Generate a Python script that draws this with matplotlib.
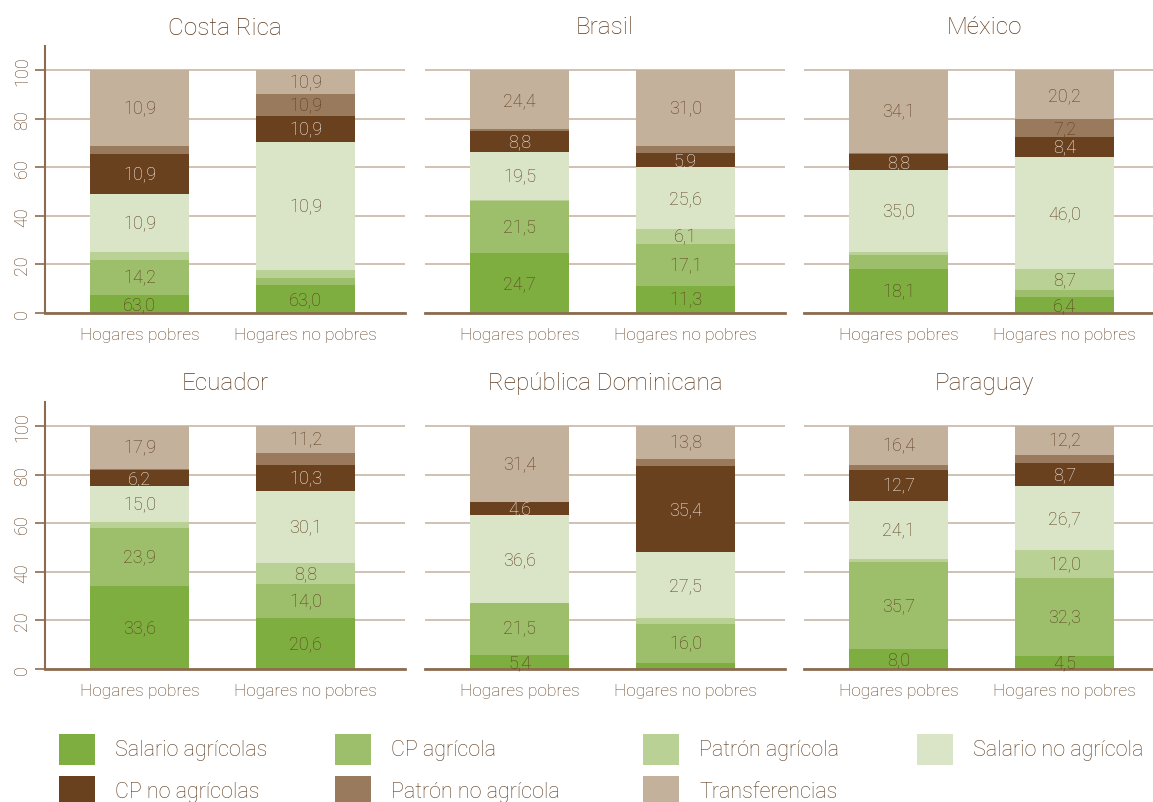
import matplotlib.pyplot as plt
from matplotlib.patches import Rectangle

# light sans, close to the original's typeface
plt.rcParams["font.family"] = ["Roboto", "DejaVu Sans"]
WEIGHT = "light"

categories = ["Hogares pobres", "Hogares no pobres"]
series = ["Salario agrícolas", "CP agrícola", "Patrón agrícola", "Salario no agrícola",
          "CP no agrícolas", "Patrón no agrícola", "Transferencias"]
colors = ["#7dae3f", "#9dbf6b", "#bad196", "#dae4c7", "#6a411f", "#9a7a5c", "#c4b19c"]

countries = ["Costa Rica", "Brasil", "México", "Ecuador", "República Dominicana", "Paraguay"]

# segment heights (bottom to top), one list per bar
costa_rica = [[7.6, 14.4, 3.0, 24.2, 16.1, 3.7, 31.0],
              [11.7, 2.6, 3.3, 52.7, 10.7, 9.1, 9.9]]
brasil = [[24.7, 21.5, 0.5, 19.5, 8.8, 0.6, 24.4],
          [11.3, 17.1, 6.1, 25.6, 5.9, 3.0, 31.0]]
mexico = [[18.1, 5.6, 1.6, 33.8, 6.2, 0.8, 33.9],
          [6.4, 2.9, 9.0, 46.0, 8.4, 7.1, 20.2]]
ecuador = [[34.3, 23.9, 2.4, 14.8, 6.6, 0.6, 17.4],
           [21.1, 14.0, 8.6, 29.6, 10.7, 4.9, 11.1]]
rep_dom = [[5.9, 21.4, 0.0, 36.2, 5.4, 0.0, 31.1],
           [2.6, 16.1, 2.4, 27.2, 35.4, 2.9, 13.4]]
paraguay = [[8.4, 35.8, 1.2, 23.9, 12.7, 2.1, 15.9],
            [5.5, 32.1, 11.5, 26.3, 9.5, 3.3, 11.8]]

# printed labels (as in the original, '' = no label)
costa_rica_lbl = [["63,0", "14,2", "", "10,9", "10,9", "", "10,9"],
                  ["63,0", "", "", "10,9", "10,9", "10,9", "10,9"]]
brasil_lbl = [["24,7", "21,5", "", "19,5", "8,8", "", "24,4"],
              ["11,3", "17,1", "6,1", "25,6", "5,9", "", "31,0"]]
mexico_lbl = [["18,1", "", "", "35,0", "8,8", "", "34,1"],
              ["6,4", "", "8,7", "46,0", "8,4", "7,2", "20,2"]]
ecuador_lbl = [["33,6", "23,9", "", "15,0", "6,2", "", "17,9"],
               ["20,6", "14,0", "8,8", "30,1", "10,3", "", "11,2"]]
rep_dom_lbl = [["5,4", "21,5", "", "36,6", "4,6", "", "31,4"],
               ["", "16,0", "", "27,5", "35,4", "", "13,8"]]
paraguay_lbl = [["8,0", "35,7", "", "24,1", "12,7", "", "16,4"],
                ["4,5", "32,3", "12,0", "26,7", "8,7", "", "12,2"]]

values = [costa_rica, brasil, mexico, ecuador, rep_dom, paraguay]
labels = [costa_rica_lbl, brasil_lbl, mexico_lbl, ecuador_lbl, rep_dom_lbl, paraguay_lbl]

TXT = "#5e3c1e"
GRID = "#cbbcad"
SPINE = "#8c6c50"

fig = plt.figure(figsize=(11.53, 8.03), dpi=100)

lefts = [45 / 1153, 425 / 1153, 804 / 1153]
bottoms = [1 - 314 / 803, 1 - 670 / 803]
w = 360 / 1153
h = 267 / 803

for i, country in enumerate(countries):
    r, c = divmod(i, 3)
    ax = fig.add_axes([lefts[c], bottoms[r], w, h])
    for j, cat in enumerate(categories):
        base = 0
        for k in range(len(series)):
            v = values[i][j][k]
            ax.bar(j, v, bottom=base, width=0.6, color=colors[k], zorder=2, linewidth=0)
            lbl = labels[i][j][k]
            if lbl:
                tc = "#f7f2ec" if k == 4 else TXT
                ax.text(j, base + v / 2, lbl, ha="center", va="center", color=tc,
                        fontsize=13, fontweight=WEIGHT, zorder=3)
            base += v
    ax.set_xlim(-0.57, 1.6)
    ax.set_ylim(0, 110)
    ax.set_yticks([0, 20, 40, 60, 80, 100])
    ax.yaxis.grid(True, color=GRID, linewidth=1.3, zorder=0)
    ax.set_axisbelow(True)
    ax.set_xticks([0, 1])
    ax.set_xticklabels(categories, fontsize=12.5, color=TXT, fontweight=WEIGHT)
    ax.tick_params(axis="x", length=0, pad=10)
    for s in ["top", "right"]:
        ax.spines[s].set_visible(False)
    ax.spines["bottom"].set_color(SPINE)
    ax.spines["bottom"].set_linewidth(2)
    if c == 0:
        ax.spines["left"].set_color(SPINE)
        ax.spines["left"].set_linewidth(1.5)
        ax.tick_params(axis="y", length=7, width=1.2, color=SPINE, labelsize=13,
                       labelcolor=TXT, pad=3)
        for t in ax.get_yticklabels():
            t.set_rotation(90)
            t.set_va("center")
            t.set_fontweight(WEIGHT)
    else:
        ax.spines["left"].set_visible(False)
        ax.tick_params(axis="y", length=0, labelleft=False)
    ax.set_title(country, fontsize=17.5, color=TXT, fontweight=WEIGHT, pad=9)

# legend drawn by hand to keep the original column grid
leg_x = [59, 335, 643, 917]
leg_y = [735, 777]
for k, name in enumerate(series):
    r, c = divmod(k, 4)
    x0 = leg_x[c] / 1153
    y0 = 1 - (leg_y[r] + 31) / 803
    fig.patches.append(Rectangle((x0, y0), 36 / 1153, 31 / 803, transform=fig.transFigure,
                                 facecolor=colors[k], edgecolor="none"))
    fig.text(x0 + 56 / 1153, y0 + 15.5 / 803, name, ha="left", va="center",
             fontsize=15.5, color=TXT, fontweight=WEIGHT)

fig.savefig("out.png", dpi=100)
